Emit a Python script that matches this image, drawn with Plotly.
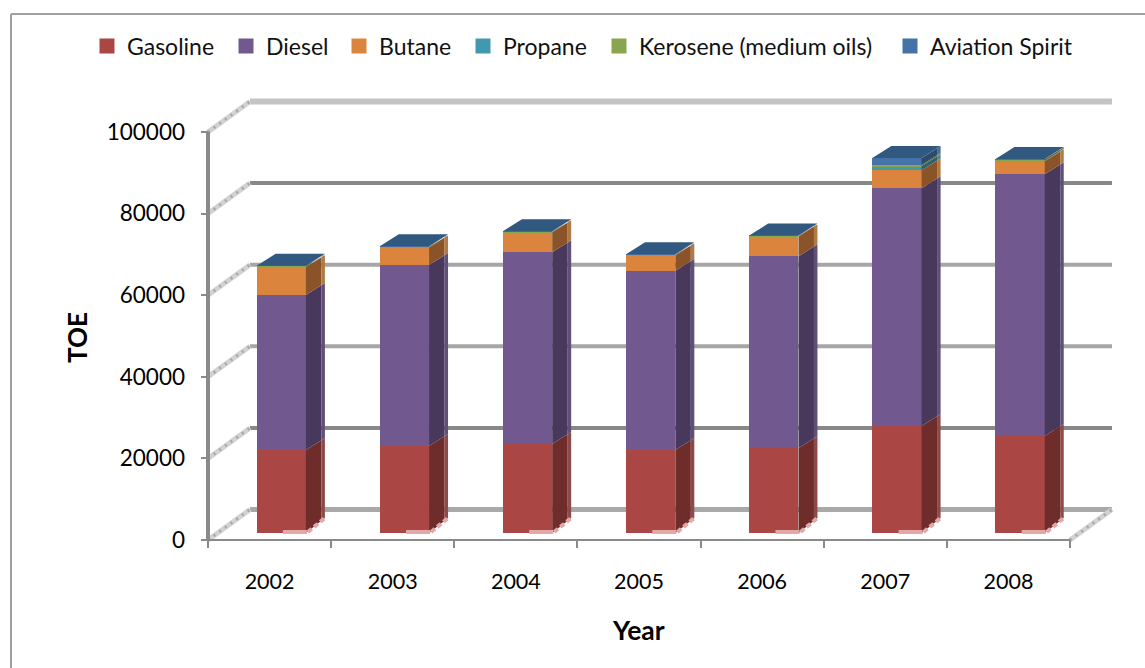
import plotly.graph_objects as go

years = ["2002", "2003", "2004", "2005", "2006", "2007", "2008"]
series_names = ["Gasoline", "Diesel", "Butane", "Propane", "Kerosene (medium oils)", "Aviation Spirit"]
gasoline = [20350, 21300, 21800, 20350, 20800, 26200, 23800]
diesel = [38000, 44400, 47000, 43900, 47000, 58300, 64100]
butane = [6850, 4300, 4900, 3800, 4900, 4400, 3200]
propane = [50, 50, 50, 50, 50, 1000, 50]
kerosene = [200, 200, 150, 150, 100, 300, 450]
aviation = [50, 50, 50, 50, 50, 1700, 50]
all_series = [gasoline, diesel, butane, propane, kerosene, aviation]
y_ticks = [0, 20000, 40000, 60000, 80000, 100000]

front_colors = ["#AA4643", "#71588F", "#DB843D", "#4198AF", "#89A54E", "#4572A7"]
side_colors = ["#6E2D2B", "#48385C", "#8B5428", "#2A6170", "#586A32", "#2E4A6D"]
edge_colors = ["#8C4B49", "#5E5078", "#B07A45", "#4A8090", "#70855A", "#4F6C90"]
top_color = "#31587F"
grid_colors = ["#A9A9A9", "#888888", "#A6A6A6", "#A6A6A6", "#888888", "#C4C4C4"]
grid_widths = [5, 4, 4, 4, 4, 6]
axis_color = "#8A8A8A"
legend_text_px = [127, 266, 379, 503, 639, 930]

# pixel geometry of the plot
W, H = 1145, 668
L, R, T, B = 201, 1115, 95, 548
X0, Y0 = 208, 540
PX_CAT = 123.14
PX_VAL = 4.08 / 1000.0
xpx = lambda n: n / PX_CAT
ypx = lambda n: n / PX_VAL

x_range = [-0.5 - xpx(X0 - L), -0.5 + xpx(R - X0)]
y_range = [-ypx(B - Y0), ypx(Y0 - T)]
WALL_X, WALL_Y = xpx(42), ypx(30.5)
BAR_WIDTH, BAR_SHIFT = 0.40, 0.095
BASE = ypx(7)
DEPTH_X, DEPTH_Y = xpx(19), ypx(12)
EDGE = xpx(3.5)

fig = go.Figure()
xs = list(range(len(years)))
legend_ids = ["legend"] + [f"legend{i}" for i in range(2, len(series_names) + 1)]

# front faces
running = [BASE] * len(years)
bases = []
for name, vals, col, lid in zip(series_names, all_series, front_colors, legend_ids):
    bases.append(list(running))
    fig.add_trace(go.Bar(
        x=xs, y=vals, base=list(running), name=name, legend=lid,
        width=BAR_WIDTH, offset=BAR_SHIFT - BAR_WIDTH / 2,
        marker=dict(color=col, line=dict(width=0)),
    ))
    running = [r + v for r, v in zip(running, vals)]


def poly_trace(px, py, color):
    fig.add_trace(go.Scatter(
        x=px, y=py, mode="lines", fill="toself", fillcolor=color,
        line=dict(width=0, color=color), showlegend=False, hoverinfo="skip",
    ))


# side faces
for k, vals in enumerate(all_series):
    sx, sy, ex, ey = [], [], [], []
    for i in xs:
        right = i + BAR_SHIFT + BAR_WIDTH / 2
        lo = bases[k][i]
        hi = lo + vals[i]
        lo_dy = DEPTH_Y * 1.25 if k == 0 else DEPTH_Y
        inner = DEPTH_X - EDGE
        frac = inner / DEPTH_X
        sx += [right, right + inner, right + inner, right, None]
        sy += [lo, lo + lo_dy * frac, hi + DEPTH_Y * frac, hi, None]
        ex += [right + inner, right + DEPTH_X, right + DEPTH_X, right + inner, None]
        ey += [lo + lo_dy * frac, lo + lo_dy, hi + DEPTH_Y, hi + DEPTH_Y * frac, None]
    poly_trace(sx, sy, side_colors[k])
    poly_trace(ex, ey, edge_colors[k])

# top caps
tx, ty = [], []
for i in xs:
    left = i + BAR_SHIFT - BAR_WIDTH / 2
    right = left + BAR_WIDTH
    top = running[i]
    tx += [left, left + DEPTH_X, right + DEPTH_X, right, None]
    ty += [top, top + DEPTH_Y, top + DEPTH_Y, top, None]
poly_trace(tx, ty, top_color)

# pale highlight along the foot of each bar
hx, hy, dx, dy = [], [], [], []
for i in xs:
    right = i + BAR_SHIFT + BAR_WIDTH / 2
    hx += [right - xpx(23), right + xpx(1), right + xpx(1), right - xpx(23), None]
    hy += [BASE - ypx(1), BASE - ypx(1), BASE + ypx(3), BASE + ypx(3), None]
    dx += [right + xpx(2), right + DEPTH_X, None]
    dy += [BASE + ypx(1), BASE + DEPTH_Y * 1.25, None]
poly_trace(hx, hy, "#E0A9A8")
fig.add_trace(go.Scatter(x=dx, y=dy, mode="lines", showlegend=False, hoverinfo="skip",
                         line=dict(color="#E0A9A8", width=4, dash="5px,3px")))

shapes = []
# back wall gridlines and the wall edges running from the axis to them
for v, c, w in zip(y_ticks, grid_colors, grid_widths):
    shapes.append(dict(type="line", layer="below", xref="x", yref="y",
                       x0=-0.5 + WALL_X, x1=6.5 + WALL_X, y0=v + WALL_Y, y1=v + WALL_Y,
                       line=dict(color=c, width=w)))
    shapes.append(dict(type="line", layer="below", xref="x", yref="y",
                       x0=-0.5, x1=-0.5 + WALL_X, y0=v, y1=v + WALL_Y,
                       line=dict(color="#D2D2D2", width=5)))
    shapes.append(dict(type="line", layer="below", xref="x", yref="y",
                       x0=-0.5, x1=-0.5 + WALL_X, y0=v, y1=v + WALL_Y,
                       line=dict(color="#A8A8A8", width=3, dash="2px,5px")))
shapes.append(dict(type="line", layer="below", xref="x", yref="y",
                   x0=6.5, x1=6.5 + WALL_X, y0=0, y1=WALL_Y,
                   line=dict(color="#D2D2D2", width=5)))
shapes.append(dict(type="line", layer="below", xref="x", yref="y",
                   x0=6.5, x1=6.5 + WALL_X, y0=0, y1=WALL_Y,
                   line=dict(color="#A8A8A8", width=3, dash="2px,5px")))
# axis lines
shapes.append(dict(type="line", layer="below", xref="x", yref="y",
                   x0=-0.5, x1=-0.5, y0=0, y1=100000, line=dict(color=axis_color, width=4)))
shapes.append(dict(type="line", layer="below", xref="x", yref="y",
                   x0=-0.5, x1=6.5, y0=0, y1=0, line=dict(color=axis_color, width=2)))
# outer chart frame (left and top only)
px_x = lambda p: (p - L) / (R - L)
px_y = lambda p: (B - p) / (B - T)
shapes.append(dict(type="line", xref="paper", yref="paper", x0=px_x(11), x1=px_x(11),
                   y0=px_y(14), y1=px_y(668), line=dict(color="#A0A0A0", width=2)))
shapes.append(dict(type="line", xref="paper", yref="paper", x0=px_x(11), x1=px_x(1145),
                   y0=px_y(14), y1=px_y(14), line=dict(color="#A0A0A0", width=2)))

FONT = "Lato, 'Open Sans', sans-serif"
legend_layouts = {}
for lid, tx0, col in zip(legend_ids, legend_text_px, front_colors):
    legend_layouts[lid] = dict(
        orientation="h", x=px_x(tx0 - 40), xanchor="left", y=px_y(46), yanchor="middle",
        font=dict(family=FONT, size=23, color="#111111"),
        bgcolor="rgba(0,0,0,0)",
    )
    # slightly enlarge the legend key to the reference's size
    cx = tx0 - 20
    shapes.append(dict(type="rect", xref="paper", yref="paper", line=dict(width=0), fillcolor=col,
                       x0=px_x(cx - 7.5), x1=px_x(cx + 7.5), y0=px_y(53.5), y1=px_y(38.5)))

fig.update_layout(
    width=W, height=H, autosize=False,
    margin=dict(l=L, r=W - R, t=T, b=H - B, pad=0),
    paper_bgcolor="white", plot_bgcolor="rgba(0,0,0,0)",
    barmode="overlay", bargap=0,
    font=dict(family=FONT, size=21, color="#000000"),
    shapes=shapes,
    hovermode=False,
    xaxis=dict(range=x_range, tickmode="array", tickvals=xs, ticktext=years,
               showgrid=False, zeroline=False, showline=False, ticks="", ticklabelstandoff=18,
               tickfont=dict(family=FONT, size=21.5),
               minor=dict(tickmode="array", tickvals=[i - 0.5 for i in range(len(years) + 1)],
                          ticks="inside", ticklen=8, tickwidth=2, tickcolor=axis_color, showgrid=False)),
    yaxis=dict(range=y_range, tickmode="array", tickvals=y_ticks,
               ticktext=[str(v) for v in y_ticks],
               showgrid=False, zeroline=False, showline=False,
               ticks="inside", ticklen=7, tickwidth=2, tickcolor=axis_color, ticklabelstandoff=15,
               tickfont=dict(family=FONT, size=22.5)),
    annotations=[
        dict(text="<b>Year</b>", xref="paper", yref="paper", x=px_x(638), y=px_y(630),
             xanchor="center", yanchor="middle", showarrow=False, font=dict(family=FONT, size=26.5)),
        dict(text="<b>TOE</b>", xref="paper", yref="paper", x=px_x(77), y=px_y(338),
             xanchor="center", yanchor="middle", showarrow=False, textangle=-90,
             font=dict(family=FONT, size=26)),
    ],
    **legend_layouts,
)
fig.write_html("out.html", config={"displayModeBar": False},
               post_script="document.body.style.margin='0';")
